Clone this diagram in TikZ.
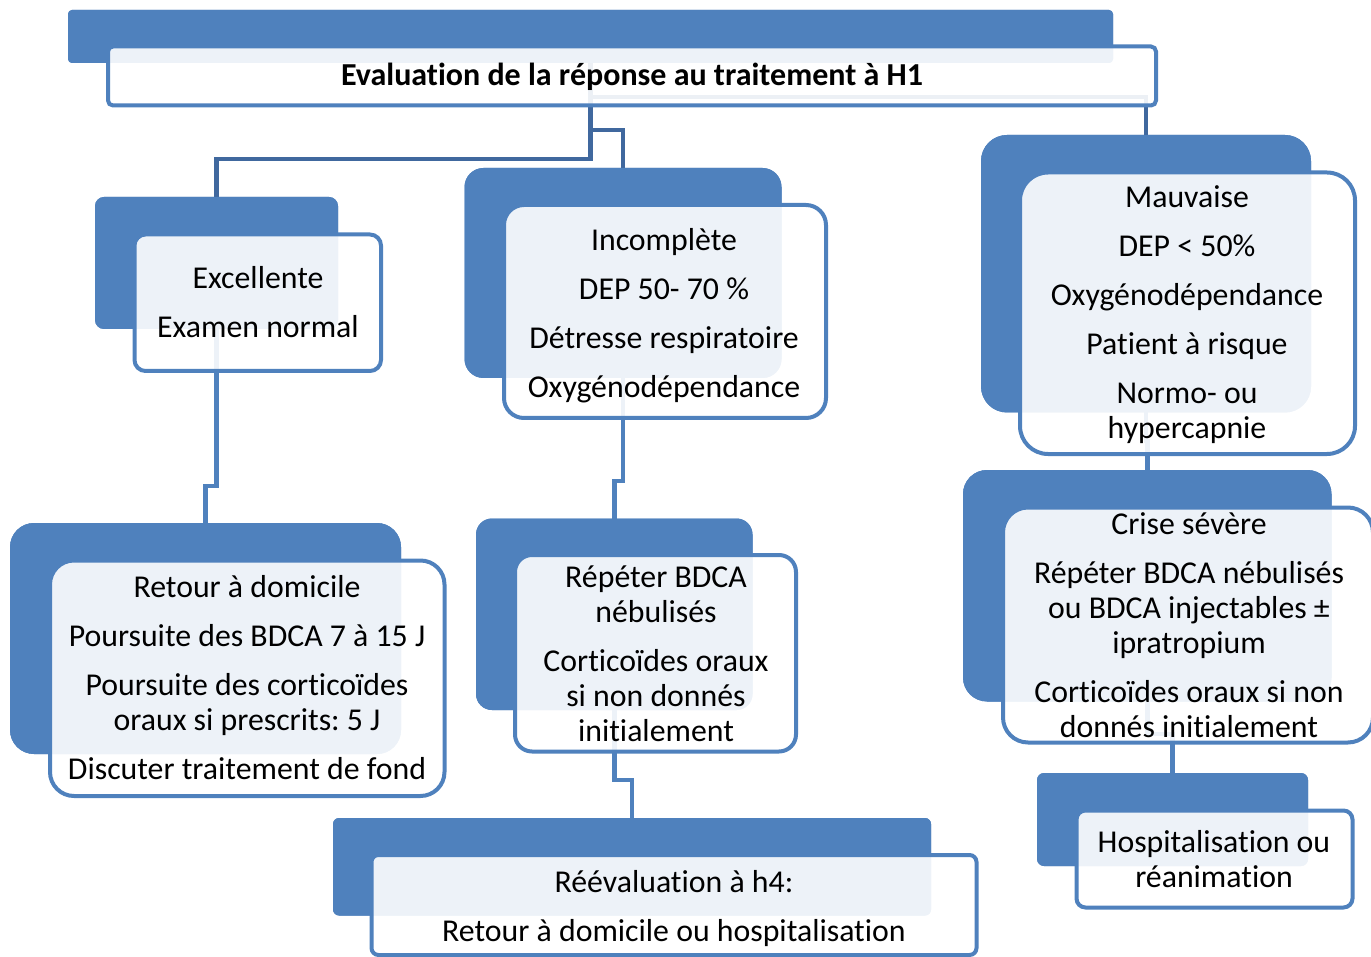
\documentclass[tikz,border=0pt]{standalone}
\usepackage{fontspec}
\setmainfont{Carlito}[RawFeature={-liga}]
\definecolor{boxblue}{RGB}{79,129,189}
\definecolor{linkdark}{RGB}{64,104,158}
\frenchspacing
\begin{document}
\begin{tikzpicture}[x={(1pt,0)},y={(0,-1pt)},
  back/.style={fill=boxblue, draw=none, inner sep=0pt, outer sep=0pt},
  front/.style={draw=boxblue, line width=4pt, fill=white, fill opacity=0.9, inner sep=0pt, outer sep=0pt},
  link/.style={draw=boxblue, line width=4.5pt},
  toplink/.style={draw=linkdark, line width=4.5pt},
  txt/.style={font=\fontsize{31.8}{35}\selectfont, align=center, inner sep=0pt, text=black},
  ttl/.style={font=\fontsize{32}{35}\selectfont\bfseries, inner sep=0pt, text=black}]
\useasboundingbox (0,0) rectangle (1371,957);
% back rectangles (also used as connector anchors)
\node[back, minimum width=1045pt, minimum height=53pt, rounded corners=4pt] (Tback) at (590.5,36.5) {};
\node[back, minimum width=243pt, minimum height=132pt, rounded corners=9pt] (Eback) at (216.5,263) {};
\node[back, minimum width=317pt, minimum height=210pt, rounded corners=19pt] (Iback) at (623,273) {};
\node[back, minimum width=330pt, minimum height=277.5pt, rounded corners=26pt] (Mback) at (1146,273.75) {};
\node[back, minimum width=391pt, minimum height=231pt, rounded corners=24pt] (Rback) at (205.5,638.5) {};
\node[back, minimum width=276.5pt, minimum height=191.5pt, rounded corners=16pt] (Pback) at (614.25,614.25) {};
\node[back, minimum width=368.5pt, minimum height=231.5pt, rounded corners=24pt] (Cback) at (1147.25,585.75) {};
\node[back, minimum width=598pt, minimum height=97.5pt, rounded corners=6pt] (Vback) at (632,866.75) {};
\node[back, minimum width=271pt, minimum height=93pt, rounded corners=7pt] (Hback) at (1172.5,819.5) {};
% elbow levels
\coordinate (k1) at (0,159);
\coordinate (k2) at (0,130);
\coordinate (k3) at (0,97);
\coordinate (k4) at (0,486);
\coordinate (k5) at (0,481);
\coordinate (k6) at (0,441);
\coordinate (k7) at (0,780);
\coordinate (k8) at (0,734);
% connectors, behind the boxes
\draw[toplink] (Tback.south) -- (Tback.south |- k1) -| (Eback.north);
\draw[toplink] (Tback.south) -- (Tback.south |- k2) -| (Iback.north);
\draw[toplink] (Tback.south) -- (Tback.south |- k3) -| (Mback.north);
\draw[link] (Eback.south) -- (Eback.south |- k4) -| (Rback.north);
\draw[link] (Iback.south) -- (Iback.south |- k5) -| (Pback.north);
\draw[link] (Mback.south) -- (Mback.south |- k6) -| (Cback.north);
\draw[link] (Pback.south) -- (Pback.south |- k7) -| (Vback.north);
\draw[link] (Cback.south) -- (Cback.south |- k8) -| (Hback.north);
% redraw back boxes over connectors
\path[back, rounded corners=4pt] (Tback.south west) rectangle (Tback.north east);
\path[back, rounded corners=9pt] (Eback.south west) rectangle (Eback.north east);
\path[back, rounded corners=19pt] (Iback.south west) rectangle (Iback.north east);
\path[back, rounded corners=26pt] (Mback.south west) rectangle (Mback.north east);
\path[back, rounded corners=24pt] (Rback.south west) rectangle (Rback.north east);
\path[back, rounded corners=16pt] (Pback.south west) rectangle (Pback.north east);
\path[back, rounded corners=24pt] (Cback.south west) rectangle (Cback.north east);
\path[back, rounded corners=6pt] (Vback.south west) rectangle (Vback.north east);
\path[back, rounded corners=7pt] (Hback.south west) rectangle (Hback.north east);
% front boxes
\node[front, minimum width=1048pt, minimum height=59pt, rounded corners=5pt] (Tfront) at (632,76) {};
\node[front, minimum width=246.5pt, minimum height=136.5pt, rounded corners=11pt] (Efront) at (257.75,302.75) {};
\node[front, minimum width=322pt, minimum height=213pt, rounded corners=20pt] (Ifront) at (665,311.5) {};
\node[front, minimum width=335pt, minimum height=281.5pt, rounded corners=28pt] (Mfront) at (1187.5,313.25) {};
\node[front, minimum width=394.5pt, minimum height=235.5pt, rounded corners=24pt] (Rfront) at (247.25,678.25) {};
\node[front, minimum width=281pt, minimum height=196.5pt, rounded corners=17pt] (Pfront) at (655.5,653.25) {};
\node[front, minimum width=370pt, minimum height=235pt, rounded corners=25pt] (Cfront) at (1188,625) {};
\node[front, minimum width=605pt, minimum height=100pt, rounded corners=7pt] (Vfront) at (674,905) {};
\node[front, minimum width=276pt, minimum height=97pt, rounded corners=9pt] (Hfront) at (1214.5,859) {};
% texts
\node[ttl] (Ttxt) at (632,79) {\strut Evaluation de la réponse au traitement à H1};
\node[txt] (Etxt) at (258,306.5) {\strut Excellente\\[14pt]Examen normal\strut};
\node[txt] (Itxt) at (664,317) {\strut Incomplète\\[14pt]DEP 50- 70 \%\\[14pt]Détresse respiratoire\\[14pt]Oxygénodépendance\strut};
\node[txt] (Mtxt) at (1187,316.5) {\strut Mauvaise\\[14pt]DEP < 50\%\\[14pt]Oxygénodépendance\\[14pt]Patient à risque\\[14pt]Normo- ou\\hypercapnie\strut};
\node[txt] (Rtxt) at (247,681.5) {\strut Retour à domicile\\[14pt]Poursuite des BDCA 7 à 15 J\\[14pt]Poursuite des corticoïdes\\oraux si prescrits: 5 J\\[14pt]Discuter traitement de fond\strut};
\node[txt] (Ptxt) at (656,657.5) {\strut Répéter BDCA\\nébulisés\\[14pt]Corticoïdes oraux\\si non donnés\\initialement\strut};
\node[txt] (Ctxt) at (1189,629) {\strut Crise sévère\\[14pt]Répéter BDCA nébulisés\\ou BDCA injectables ±\\ipratropium\\[14pt]Corticoïdes oraux si non\\donnés initialement\strut};
\node[txt] (Vtxt) at (674,910) {\strut Réévaluation à h4:\\[14pt]Retour à domicile ou hospitalisation\strut};
\node[txt] (Htxt) at (1214,863) {\strut Hospitalisation ou\\réanimation\strut};
\end{tikzpicture}
\end{document}
